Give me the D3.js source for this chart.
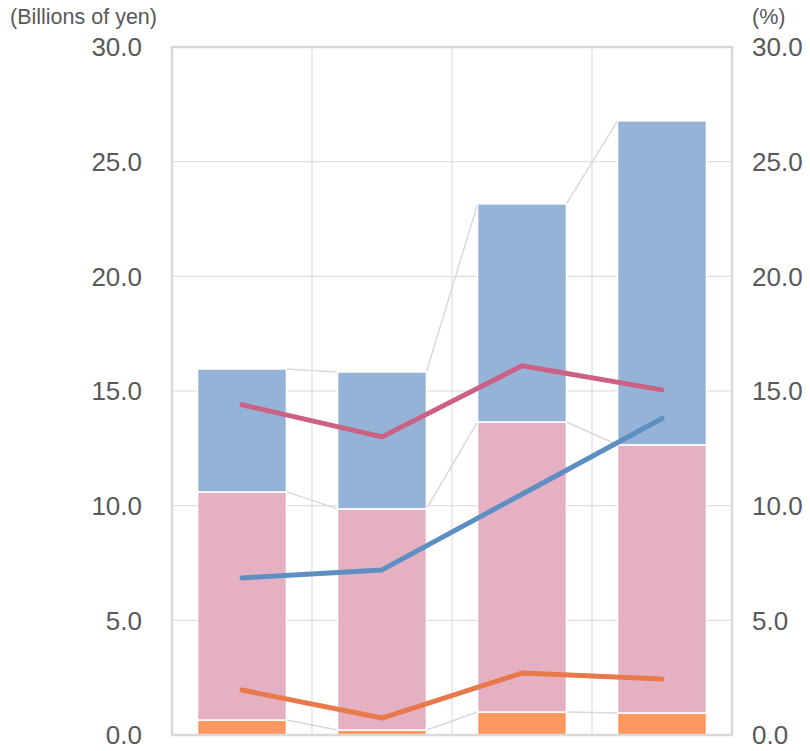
<!DOCTYPE html>
<html><head><meta charset="utf-8">
<script src="https://cdn.jsdelivr.net/npm/d3@7"></script>
<style>body{margin:0;background:#fff;} svg{display:block;}</style>
</head><body>
<svg id="c" width="810" height="751"></svg>
<script>
const categories = ["FY1", "FY2", "FY3", "FY4"];
const seriesOrange = [0.65, 0.22, 1.0, 0.96];
const seriesPink = [9.95, 9.64, 12.65, 11.69];
const seriesBlue = [5.36, 5.97, 9.51, 14.13];
const linePink = [14.4, 13.0, 16.1, 15.05];
const lineBlue = [6.85, 7.2, 10.5, 13.8];
const lineOrange = [1.96, 0.74, 2.7, 2.44];
const tickValues = [0, 5, 10, 15, 20, 25, 30];

const svg = d3.select("#c");
const L = 172, R = 732, T = 47, B = 735;
const x = d3.scaleBand().domain(categories).range([L, R]).padding(0);
const yL = d3.scaleLinear().domain([0, 30]).range([B, T]);
const yR = d3.scaleLinear().domain([0, 30]).range([B, T]);
const bw = x.bandwidth() * 0.635;
const cx = c => x(c) + x.bandwidth() / 2;

// gridlines
const g = svg.append("g");
g.selectAll("line.h").data(tickValues.slice(1, -1)).join("line")
  .attr("x1", L).attr("x2", R).attr("y1", d => yL(d)).attr("y2", d => yL(d))
  .attr("stroke", "#d9d9d9").attr("stroke-width", 1);
g.selectAll("line.v").data(categories.slice(1)).join("line")
  .attr("x1", d => x(d)).attr("x2", d => x(d)).attr("y1", T).attr("y2", B)
  .attr("stroke", "#d9d9d9").attr("stroke-width", 1);

// stacked data
const stackData = categories.map((c, i) => ({cat: c, o: seriesOrange[i], p: seriesPink[i], b: seriesBlue[i]}));
const stack = d3.stack().keys(["o", "p", "b"])(stackData);
const colors = {o: "#fd9860", p: "#e5b0c2", b: "#95b3d7"};

// connector lines
stack.forEach(layer => {
  for (let i = 0; i < categories.length - 1; i++) {
    svg.append("line")
      .attr("x1", cx(categories[i]) + bw / 2).attr("y1", yL(layer[i][1]))
      .attr("x2", cx(categories[i + 1]) - bw / 2).attr("y2", yL(layer[i + 1][1]))
      .attr("stroke", "#d9d9d9").attr("stroke-width", 1.5);
  }
});

// bars
stack.forEach(layer => {
  svg.append("g").selectAll("rect").data(layer).join("rect")
    .attr("x", d => cx(d.data.cat) - bw / 2)
    .attr("width", bw)
    .attr("y", d => yL(d[1]))
    .attr("height", d => yL(d[0]) - yL(d[1]))
    .attr("fill", colors[layer.key])
    .attr("stroke", "#fff").attr("stroke-width", 1.5);
});

// border
svg.append("rect").attr("x", L).attr("y", T).attr("width", R - L).attr("height", B - T)
  .attr("fill", "none").attr("stroke", "#d9d9d9").attr("stroke-width", 2.5);

// lines
const lineGen = d3.line().x((d, i) => cx(categories[i])).y(d => yR(d));
[[linePink, "#cc6186"], [lineBlue, "#5d8fc3"], [lineOrange, "#e8794b"]].forEach(([vals, col]) => {
  svg.append("path").datum(vals).attr("d", lineGen)
    .attr("fill", "none").attr("stroke", col).attr("stroke-width", 5)
    .attr("stroke-linecap", "round").attr("stroke-linejoin", "round");
});

// axes labels
const font = "'Liberation Sans', Arial, sans-serif";
svg.append("g").selectAll("text").data(tickValues).join("text")
  .attr("x", 142).attr("y", d => yL(d)).attr("dy", "0.36em")
  .attr("text-anchor", "end").attr("font-family", font).attr("font-size", 26)
  .attr("fill", "#595959").text(d => d.toFixed(1));
svg.append("g").selectAll("text").data(tickValues).join("text")
  .attr("x", 752).attr("y", d => yR(d)).attr("dy", "0.36em")
  .attr("text-anchor", "start").attr("font-family", font).attr("font-size", 26)
  .attr("fill", "#595959").text(d => d.toFixed(1));

svg.append("text").attr("x", 10).attr("y", 24).attr("font-family", font).attr("font-size", 21.5)
  .attr("fill", "#595959").text("(Billions of yen)");
svg.append("text").attr("x", 752).attr("y", 24).attr("font-family", font).attr("font-size", 21.5)
  .attr("fill", "#595959").text("(%)");
</script>
</body></html>
